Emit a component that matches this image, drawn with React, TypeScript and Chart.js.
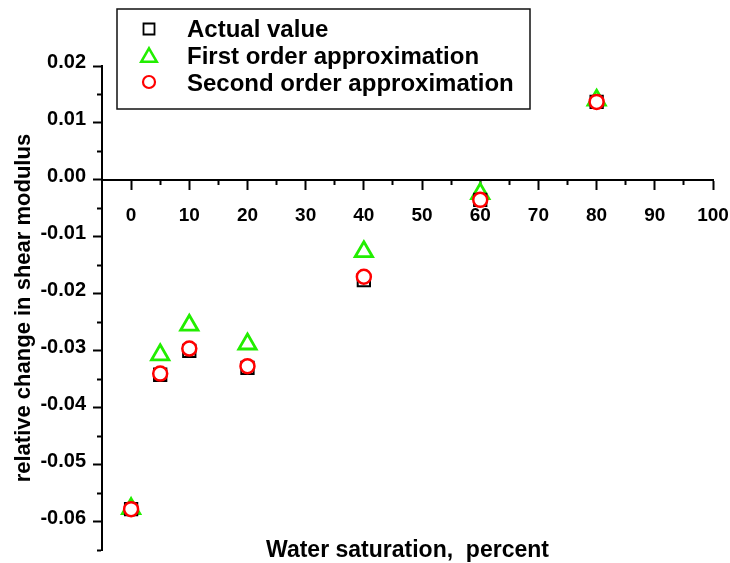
import React, { useEffect, useRef } from "react";
import { Chart, registerables } from "chart.js";

Chart.register(...registerables);

// ---- data ----
const waterSaturation = [0, 5, 10, 20, 40, 60, 80];
const actualValue = [-0.0578, -0.0342, -0.03, -0.033, -0.0176, -0.0035, 0.0137];
const firstOrder = [-0.0577, -0.0307, -0.0255, -0.0288, -0.0126, -0.0024, 0.014];
const secondOrder = [-0.0578, -0.034, -0.0296, -0.0327, -0.017, -0.0035, 0.0137];

const seriesLabels = ["Actual value", "First order approximation", "Second order approximation"];

const xMajorTicks = [0, 10, 20, 30, 40, 50, 60, 70, 80, 90, 100];
const xTickLabels = ["0", "10", "20", "30", "40", "50", "60", "70", "80", "90", "100"];
const xMinorTicks = [5, 15, 25, 35, 45, 55, 65, 75, 85, 95];

const yMajorTicks = [-0.06, -0.05, -0.04, -0.03, -0.02, -0.01, 0, 0.01, 0.02];
const yTickLabels = ["-0.06", "-0.05", "-0.04", "-0.03", "-0.02", "-0.01", "0.00", "0.01", "0.02"];
const yMinorTicks = [-0.065, -0.055, -0.045, -0.035, -0.025, -0.015, -0.005, 0.005, 0.015];

const xTitle = "Water saturation,  percent";
const yTitle = "relative change in shear modulus";

const FONT = "'Liberation Sans', Arial, Helvetica, sans-serif";
const GREEN = "#22ee00";
const RED = "#ff0000";

const findIdx = (arr: number[], v: number) => arr.findIndex((m) => Math.abs(m - v) < 1e-9);

const legendPlugin = {
  id: "boxLegend",
  afterDraw(chart: any) {
    const ctx = chart.ctx as CanvasRenderingContext2D;
    const box = { left: 117, top: 9, right: 530, bottom: 109 };
    ctx.save();
    ctx.lineWidth = 1.5;
    ctx.strokeStyle = "#111";
    ctx.strokeRect(box.left, box.top, box.right - box.left, box.bottom - box.top);
    const rows = [29, 55, 82];
    const baselines = [36.5, 63.5, 90.5];
    const mx = 149;
    chart.data.datasets.forEach((ds: any, i: number) => {
      const cy = rows[i];
      ctx.strokeStyle = ds.borderColor;
      ctx.fillStyle = "#fff";
      ctx.beginPath();
      if (ds.pointStyle === "rect") {
        ctx.lineWidth = 1.8;
        ctx.rect(mx - 5.5, cy - 5.5, 11, 11);
      } else if (ds.pointStyle === "triangle") {
        ctx.lineWidth = 2.5;
        const r = 9;
        const c = cy + r / 4;
        for (let k = 0; k < 3; k++) {
          const a = (k * 2 * Math.PI) / 3;
          const px = mx + Math.sin(a) * r;
          const py = c - Math.cos(a) * r;
          if (k === 0) ctx.moveTo(px, py);
          else ctx.lineTo(px, py);
        }
        ctx.closePath();
      } else {
        ctx.lineWidth = 2.2;
        ctx.arc(mx, cy, 6, 0, Math.PI * 2);
      }
      ctx.fill();
      ctx.stroke();
      ctx.fillStyle = "#000";
      ctx.font = `bold 24px ${FONT}`;
      ctx.textBaseline = "alphabetic";
      ctx.textAlign = "left";
      ctx.fillText(ds.label, 187, baselines[i]);
    });
    ctx.restore();
  },
};

export default function App() {
  const canvasRef = useRef<HTMLCanvasElement | null>(null);

  useEffect(() => {
    if (!canvasRef.current) return;
    const mk = (ys: number[]) => waterSaturation.map((x, i) => ({ x, y: ys[i] }));
    const chart = new Chart(canvasRef.current, {
      type: "scatter",
      data: {
        datasets: [
          {
            label: seriesLabels[0],
            data: mk(actualValue),
            pointStyle: "rect",
            pointRadius: 8.7,
            borderColor: "#000",
            backgroundColor: "#fff",
            pointBorderWidth: 2,
            order: 1,
          },
          {
            label: seriesLabels[1],
            data: mk(firstOrder),
            pointStyle: "triangle",
            pointRadius: 10,
            borderColor: GREEN,
            backgroundColor: "#fff",
            pointBorderWidth: 2.8,
            order: 2,
          },
          {
            label: seriesLabels[2],
            data: mk(secondOrder),
            pointStyle: "circle",
            pointRadius: 7,
            borderColor: RED,
            backgroundColor: "#fff",
            pointBorderWidth: 2.5,
            order: 0,
          },
        ] as any,
      },
      options: {
        animation: false,
        responsive: false,
        maintainAspectRatio: false,
        layout: { padding: { top: 66, right: 17, bottom: 7, left: 0 } },
        plugins: {
          legend: { display: false },
          tooltip: { enabled: false },
        },
        scales: {
          x: {
            type: "linear",
            position: { y: 0 } as any,
            min: -5,
            max: 100,
            afterBuildTicks: (s: any) => {
              s.ticks = [...xMajorTicks, ...xMinorTicks].sort((a, b) => a - b).map((v) => ({ value: v }));
            },
            afterFit: (s: any) => {
              s.height = 385;
              s.paddingLeft = 0;
              s.paddingRight = 0;
            },
            ticks: {
              autoSkip: false,
              maxRotation: 0,
              padding: 15,
              color: "#000",
              font: { family: FONT, size: 19, weight: "bold" },
              callback: (v: any) => {
                const i = findIdx(xMajorTicks, Number(v));
                return i >= 0 ? xTickLabels[i] : "";
              },
            },
            grid: {
              drawOnChartArea: false,
              drawTicks: true,
              tickLength: 9,
              tickWidth: 2,
              tickColor: "#000",
              tickBorderDash: (c: any) => (findIdx(xMajorTicks, c.tick.value) >= 0 ? [] : [4, 100]),
            } as any,
            border: { display: true, color: "#000", width: 2 },
            title: {
              display: true,
              text: xTitle,
              color: "#000",
              padding: 0,
              font: { family: FONT, size: 23, weight: "bold" },
            },
          },
          y: {
            type: "linear",
            position: "left",
            min: -0.065,
            max: 0.02,
            afterBuildTicks: (s: any) => {
              s.ticks = [...yMajorTicks, ...yMinorTicks].sort((a, b) => a - b).map((v) => ({ value: v }));
            },
            afterFit: (s: any) => {
              s.width = 102;
              s.paddingTop = 0;
              s.paddingBottom = 0;
            },
            ticks: {
              autoSkip: false,
              padding: 7,
              labelOffset: -3.5,
              color: "#000",
              font: { family: FONT, size: 20, weight: "bold" },
              callback: (v: any) => {
                const i = findIdx(yMajorTicks, Number(v));
                return i >= 0 ? yTickLabels[i] : "";
              },
            },
            grid: {
              drawOnChartArea: false,
              drawTicks: true,
              tickLength: 9,
              tickWidth: 2,
              tickColor: "#000",
              tickBorderDash: (c: any) => (findIdx(yMajorTicks, c.tick.value) >= 0 ? [] : [0, 4, 20, 100]),
            } as any,
            border: { display: true, color: "#000", width: 2 },
            title: {
              display: true,
              text: yTitle,
              color: "#000",
              padding: { top: 11, bottom: 0 },
              font: { family: FONT, size: 22, weight: "bold" },
            },
          },
        },
      },
      plugins: [legendPlugin],
    });
    return () => chart.destroy();
  }, []);

  return (
    <div style={{ position: "absolute", left: 0, top: 0, width: 730, height: 563, background: "#fff" }}>
      <canvas ref={canvasRef} width={730} height={563} style={{ display: "block", width: 730, height: 563 }} />
    </div>
  );
}
